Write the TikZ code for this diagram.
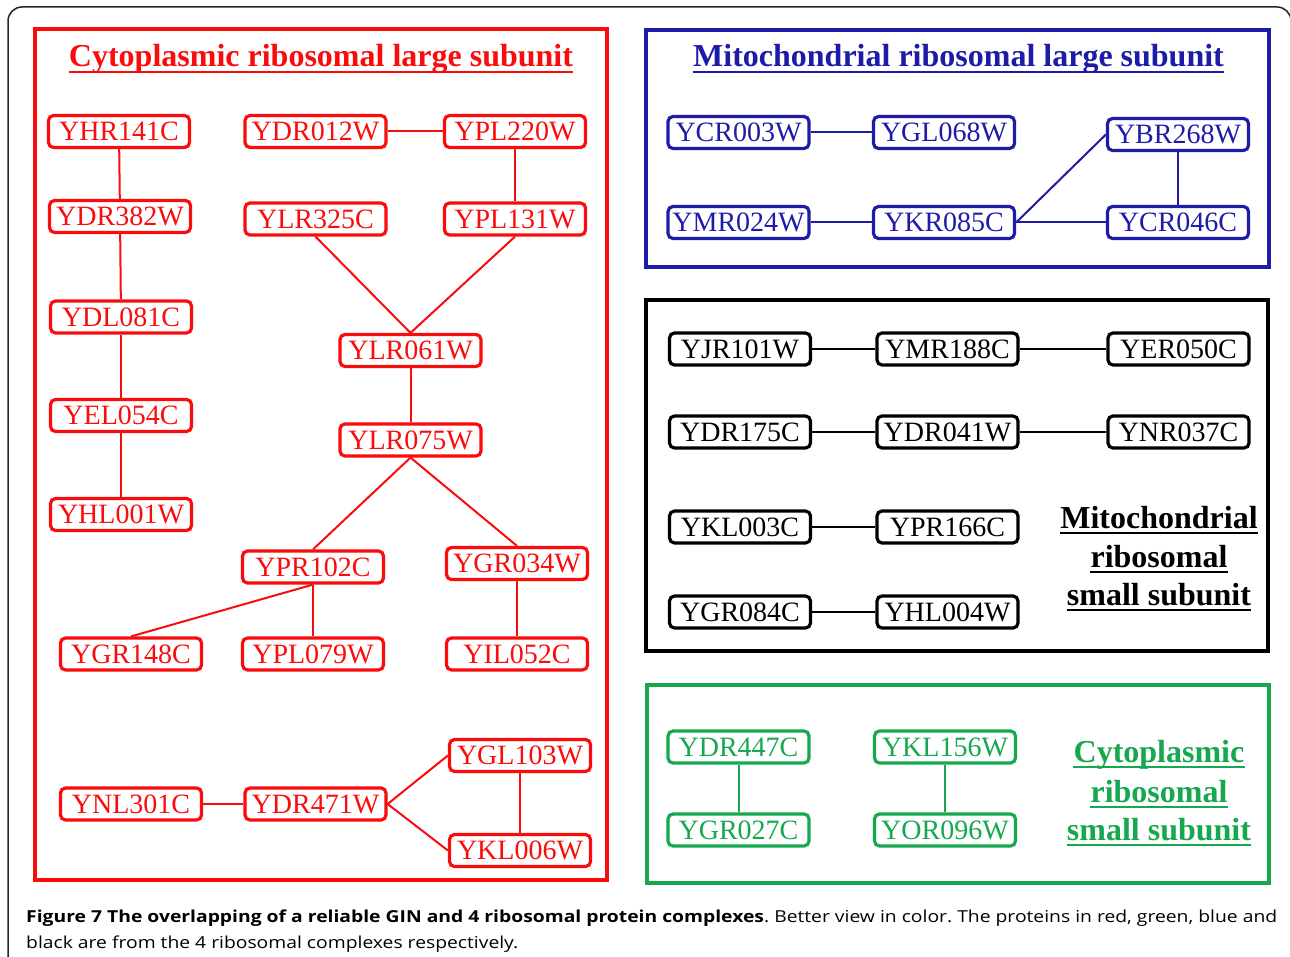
\documentclass[tikz,border=0pt]{standalone}
\usepackage{fontspec}
\newfontfamily\nodefont{Liberation Serif}
\newfontfamily\capfont[FakeStretch=1.17]{Open Sans}
\definecolor{cred}{RGB}{250,12,12}
\definecolor{cblue}{RGB}{28,28,168}
\definecolor{cgreen}{RGB}{22,168,78}
\definecolor{cblk}{RGB}{0,0,0}
\tikzset{
  gene/.style={draw, line width=3.2, rounded corners=5, minimum width=141, minimum height=32,
    inner sep=0, font=\nodefont\fontsize{28}{30}\selectfont},
  link/.style={line width=2},
  frame/.style={line width=3.4},
  ttl/.style={inner sep=0, anchor=base, font=\nodefont\bfseries\fontsize{32}{34}\selectfont},
  uline/.style={line width=2.4},
}
\newcommand{\ul}[2]{\draw[uline,#2] ([yshift=-5]#1.base west) -- ([yshift=-5]#1.base east);}
\begin{document}
\begin{tikzpicture}[x=1pt,y=-1pt]
\useasboundingbox (0,0) rectangle (1290,957);
\fill[white] (0,0) rectangle (1290,957);
% outer frame
\draw[line width=1.5, black!85, rounded corners=14] (8,965) -- (8,7) -- (1291,7) -- (1291,965);

% ---------- red ----------
\draw[frame, cred] (35,29) rectangle (607,880);
\node[ttl, text=cred] (tR) at (321,67) {Cytoplasmic ribosomal large subunit};
\ul{tR}{cred}
\begin{scope}[every node/.style={gene, draw=cred, text=cred}]
\node (YHR141C) at (119,131.5) {YHR141C};
\node (YDR012W) at (315.5,131.5) {YDR012W};
\node (YPL220W) at (515,131.5) {YPL220W};
\node (YDR382W) at (120,216.5) {YDR382W};
\node (YLR325C) at (315.5,219) {YLR325C};
\node (YPL131W) at (515,219) {YPL131W};
\node (YDL081C) at (121,317) {YDL081C};
\node (YLR061W) at (410.5,350.5) {YLR061W};
\node (YEL054C) at (121,415.5) {YEL054C};
\node (YLR075W) at (410.5,440) {YLR075W};
\node (YHL001W) at (121,514.5) {YHL001W};
\node (YPR102C) at (313,567) {YPR102C};
\node (YGR034W) at (517,563.5) {YGR034W};
\node (YGR148C) at (131,654) {YGR148C};
\node (YPL079W) at (313,654) {YPL079W};
\node (YIL052C) at (517,654) {YIL052C};
\node (YNL301C) at (131,804) {YNL301C};
\node (YDR471W) at (315.5,804) {YDR471W};
\node (YGL103W) at (520,755.5) {YGL103W};
\node (YKL006W) at (520,850.5) {YKL006W};
\end{scope}
\begin{scope}[link, cred]
\draw (YHR141C) -- (YDR382W);
\draw (YDR382W) -- (YDL081C);
\draw (YDL081C) -- (YEL054C);
\draw (YEL054C) -- (YHL001W);
\draw (YDR012W) -- (YPL220W);
\draw (YPL220W) -- (YPL131W);
\draw (YLR325C.south) -- (YLR061W.north);
\draw (YPL131W.south) -- (YLR061W.north);
\draw (YLR061W) -- (YLR075W);
\draw (YLR075W.south) -- (YPR102C.north);
\draw (YLR075W.south) -- (YGR034W.north);
\draw (YPR102C.south) -- (YGR148C.north);
\draw (YPR102C) -- (YPL079W);
\draw (YGR034W) -- (YIL052C);
\draw (YNL301C) -- (YDR471W);
\draw (YDR471W.east) -- (YGL103W.west);
\draw (YDR471W.east) -- (YKL006W.west);
\draw (YGL103W) -- (YKL006W);
\end{scope}

% ---------- blue ----------
\draw[frame, cblue] (646,30) rectangle (1269,267);
\node[ttl, text=cblue] (tB) at (958.5,67) {Mitochondrial ribosomal large subunit};
\ul{tB}{cblue}
\begin{scope}[every node/.style={gene, draw=cblue, text=cblue}]
\node (YCR003W) at (738.5,132.5) {YCR003W};
\node (YGL068W) at (944,132.5) {YGL068W};
\node (YBR268W) at (1178,134.5) {YBR268W};
\node (YMR024W) at (738.5,222.5) {YMR024W};
\node (YKR085C) at (944,222.5) {YKR085C};
\node (YCR046C) at (1178,222.5) {YCR046C};
\end{scope}
\begin{scope}[link, cblue]
\draw (YCR003W) -- (YGL068W);
\draw (YMR024W) -- (YKR085C);
\draw (YKR085C) -- (YCR046C);
\draw (YKR085C.east) -- (YBR268W.west);
\draw (YBR268W) -- (YCR046C);
\end{scope}

% ---------- black ----------
\draw[frame, cblk] (646,300) rectangle (1268,651);
\node[ttl, text=cblk] (tK1) at (1159,528) {Mitochondrial};
\node[ttl, text=cblk] (tK2) at (1159,567) {ribosomal};
\node[ttl, text=cblk] (tK3) at (1159,605) {small subunit};
\ul{tK1}{cblk}\ul{tK2}{cblk}\ul{tK3}{cblk}
\begin{scope}[every node/.style={gene, draw=cblk, text=cblk}]
\node (YJR101W) at (740,349) {YJR101W};
\node (YMR188C) at (947.5,349) {YMR188C};
\node (YER050C) at (1178.5,349) {YER050C};
\node (YDR175C) at (740,432) {YDR175C};
\node (YDR041W) at (947.5,432) {YDR041W};
\node (YNR037C) at (1178.5,432) {YNR037C};
\node (YKL003C) at (740,527) {YKL003C};
\node (YPR166C) at (947.5,527) {YPR166C};
\node (YGR084C) at (740,612) {YGR084C};
\node (YHL004W) at (947.5,612) {YHL004W};
\end{scope}
\begin{scope}[link, cblk]
\draw (YJR101W) -- (YMR188C);
\draw (YMR188C) -- (YER050C);
\draw (YDR175C) -- (YDR041W);
\draw (YDR041W) -- (YNR037C);
\draw (YKL003C) -- (YPR166C);
\draw (YGR084C) -- (YHL004W);
\end{scope}

% ---------- green ----------
\draw[frame, cgreen] (647,685) rectangle (1269,883);
\node[ttl, text=cgreen] (tG1) at (1159,762) {Cytoplasmic};
\node[ttl, text=cgreen] (tG2) at (1159,802) {ribosomal};
\node[ttl, text=cgreen] (tG3) at (1159,840) {small subunit};
\ul{tG1}{cgreen}\ul{tG2}{cgreen}\ul{tG3}{cgreen}
\begin{scope}[every node/.style={gene, draw=cgreen, text=cgreen}]
\node (YDR447C) at (738.5,747) {YDR447C};
\node (YGR027C) at (738.5,830) {YGR027C};
\node (YKL156W) at (945,747) {YKL156W};
\node (YOR096W) at (945,830) {YOR096W};
\end{scope}
\begin{scope}[link, cgreen]
\draw (YDR447C) -- (YGR027C);
\draw (YKL156W) -- (YOR096W);
\end{scope}

% ---------- caption ----------
\node[anchor=north west, inner sep=0, text width=1251, align=justify,
      font=\capfont\fontsize{16.5}{26}\selectfont] (cap) at (26,910)
  {\frenchspacing\textbf{Figure 7 The overlapping of a reliable GIN and 4 ribosomal protein complexes}. Better view in color. The proteins in red, green, blue and black are from the 4 ribosomal complexes respectively.};
\end{tikzpicture}
\end{document}
